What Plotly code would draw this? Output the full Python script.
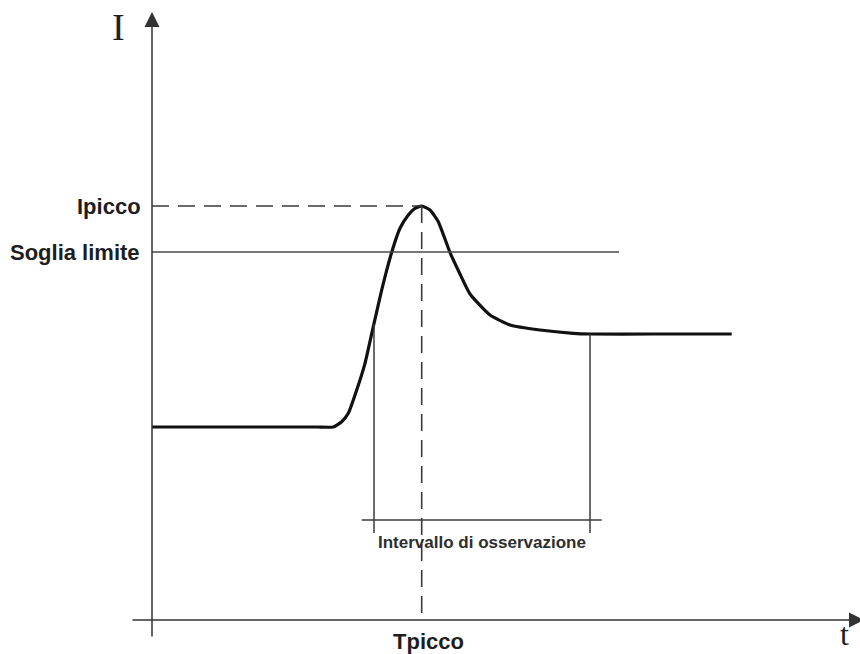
import plotly.graph_objects as go

# ---- data (t in abstract time units, I in abstract current units) ----
t_curve = [0.0, 9.0, 16.5, 18.13, 18.97, 19.63, 20.47, 21.3, 22.13, 22.97, 23.97, 24.8, 25.63,
           26.3, 26.97, 27.8, 28.63, 29.8, 30.8, 31.8, 33.8, 35.8, 38.8, 42.13, 43.8, 50.0, 57.97]
I_curve = [19.3, 19.3, 19.3, 19.3, 19.83, 20.67, 23.0, 25.67, 29.33, 33.0, 36.77, 39.17, 40.5,
           41.17, 41.4, 41.0, 39.83, 36.75, 34.6, 32.6, 30.5, 29.5, 29.0, 28.67, 28.6, 28.6, 28.6]

t_peak = 26.97
I_peak = 41.4
I_threshold = 36.8
t_threshold_end = 46.7
t_obs_start = 22.2
t_obs_end = 43.8
I_obs_start = 29.6
I_obs_end = 28.6
I_obs_bar = 10.0
I_obs_tick_bottom = 8.7
t_obs_bar = [20.97, 44.97]

t_axis = [-2.1, 71.2]
I_axis = [-1.8, 60.8]

labels_y = ["Ipicco", "Soglia limite"]
label_x = "Tpicco"
label_interval = "Intervallo di osservazione"
axis_title_y = "I"
axis_title_x = "t"

axis_col = "#4a4a4a"
line_col = "#3a3a3a"
sans = "Liberation Sans, Arial"
serif = "Liberation Serif, Times New Roman"

fig = go.Figure()
fig.add_trace(go.Scatter(x=t_curve, y=I_curve, mode="lines",
                         line=dict(color="#111111", width=3.2, shape="spline", smoothing=0.5),
                         hoverinfo="skip", showlegend=False))

shapes = [
    dict(type="line", x0=0, x1=t_threshold_end, y0=I_threshold, y1=I_threshold,
         line=dict(color=axis_col, width=1.5)),
    dict(type="line", x0=0, x1=t_peak, y0=I_peak, y1=I_peak,
         line=dict(color=line_col, width=1.6, dash="17px,9px")),
    dict(type="line", x0=t_peak, x1=t_peak, y0=I_peak, y1=0,
         line=dict(color=line_col, width=1.6, dash="17px,9px")),
    dict(type="line", x0=t_obs_start, x1=t_obs_start, y0=I_obs_start, y1=I_obs_tick_bottom,
         line=dict(color=line_col, width=1.5)),
    dict(type="line", x0=t_obs_end, x1=t_obs_end, y0=I_obs_end, y1=I_obs_tick_bottom,
         line=dict(color=line_col, width=1.5)),
    dict(type="line", x0=t_obs_bar[0], x1=t_obs_bar[1], y0=I_obs_bar, y1=I_obs_bar,
         line=dict(color=line_col, width=1.5)),
]

annotations = [
    dict(x=0, y=I_axis[1], ax=0, ay=I_axis[0], xref="x", yref="y", axref="x", ayref="y",
         text="", showarrow=True, arrowhead=2, arrowsize=2.0, arrowwidth=1.5,
         arrowcolor="#333333"),
    dict(x=t_axis[1], y=0, ax=t_axis[0], ay=0, xref="x", yref="y", axref="x", ayref="y",
         text="", showarrow=True, arrowhead=2, arrowsize=2.0, arrowwidth=1.5,
         arrowcolor="#333333"),
    dict(x=-0.9, y=I_peak, text="<b>" + labels_y[0] + "</b>", showarrow=False,
         xanchor="right", yanchor="middle", xref="x", yref="y",
         font=dict(family=sans, size=22, color="#1e1e1e")),
    dict(x=-1.0, y=I_threshold, text="<b>" + labels_y[1] + "</b>", showarrow=False,
         xanchor="right", yanchor="middle", xref="x", yref="y",
         font=dict(family=sans, size=22, color="#1e1e1e")),
    dict(x=27.6, y=-2.15, text="<b>" + label_x + "</b>", showarrow=False,
         xanchor="center", yanchor="middle", xref="x", yref="y",
         font=dict(family=sans, size=22, color="#1e1e1e")),
    dict(x=33.0, y=7.75, text="<b>" + label_interval + "</b>", showarrow=False,
         xanchor="center", yanchor="middle", xref="x", yref="y",
         font=dict(family=sans, size=17, color="#2e2e2e")),
    dict(x=-3.4, y=59.3, text=axis_title_y, showarrow=False, xanchor="center", yanchor="middle",
         xref="x", yref="y", font=dict(family=serif, size=38, color="#1e1e1e")),
    dict(x=69.2, y=-3.4, text=axis_title_x, showarrow=False, xanchor="center", yanchor="bottom",
         xref="x", yref="y", font=dict(family=serif, size=32, color="#1e1e1e")),
]

fig.update_layout(
    width=860, height=654,
    margin=dict(l=0, r=0, t=0, b=0),
    paper_bgcolor="white", plot_bgcolor="white",
    xaxis=dict(range=[-15.2, 70.8], visible=False, fixedrange=True),
    yaxis=dict(range=[-3.4, 62.0], visible=False, fixedrange=True),
    shapes=shapes, annotations=annotations, showlegend=False,
)

fig.write_html("out.html", config={"displayModeBar": False},
               post_script="document.body.style.margin='0';document.body.style.overflow='hidden';")
